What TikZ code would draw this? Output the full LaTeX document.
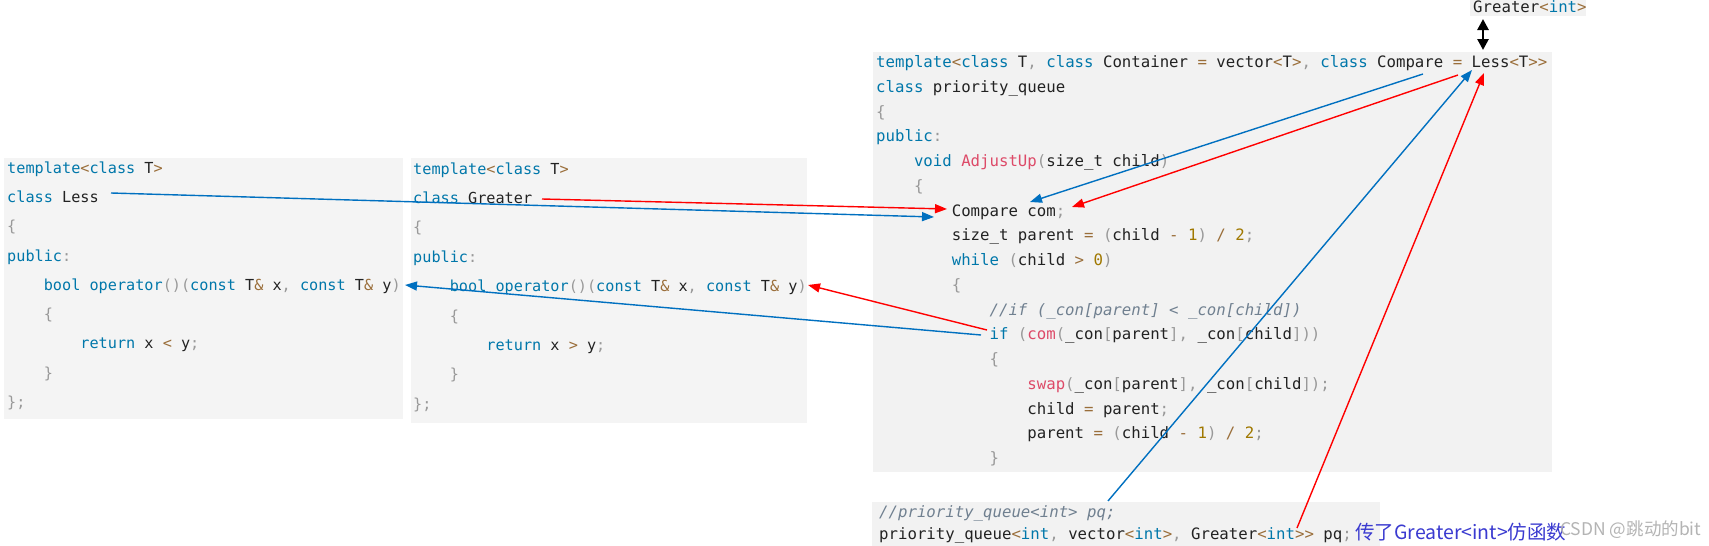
\documentclass[tikz,border=0pt]{standalone}
\usepackage{fontspec}
\usetikzlibrary{arrows.meta}
\newfontfamily\codefont{DejaVu Sans Mono}
\newfontfamily\cjkfont{Noto Sans CJK SC}
\definecolor{kwc}{HTML}{0077AA}
\definecolor{puc}{HTML}{999999}
\definecolor{opc}{HTML}{9A6E3A}
\definecolor{fnc}{HTML}{DD4A68}
\definecolor{nmc}{HTML}{A07800}
\definecolor{cmc}{HTML}{708090}
\definecolor{txc}{HTML}{222222}
\definecolor{boxa}{HTML}{F4F4F4}
\definecolor{boxb}{HTML}{F2F2F2}
\definecolor{arrblue}{HTML}{0070C0}
\definecolor{arrred}{HTML}{FF0000}
\definecolor{handblue}{HTML}{3A3AD0}
\definecolor{wmgray}{HTML}{B4B4B4}
\newcommand\cKw[1]{\textcolor{kwc}{#1}}
\newcommand\cPu[1]{\textcolor{puc}{#1}}
\newcommand\cOp[1]{\textcolor{opc}{#1}}
\newcommand\cFn[1]{\textcolor{fnc}{#1}}
\newcommand\cNm[1]{\textcolor{nmc}{#1}}
\newcommand\cCm[1]{{\color{cmc}\itshape #1}}
\tikzset{
  codeA/.style={anchor=mid west, inner sep=0pt, yshift=-3pt, text=txc, font=\codefont\fontsize{15.2}{18}\selectfont},
  codeB/.style={anchor=mid west, inner sep=0pt, yshift=-3.5pt, text=txc, font=\codefont\fontsize{15.7}{18}\selectfont},
  boxA/.style={fill=boxa, draw=none},
  boxB/.style={fill=boxb, draw=none},
  barr/.style={arrblue, line width=1.4pt, -{Triangle[length=12pt,width=9pt]}},
  rarr/.style={arrred, line width=1.4pt, -{Triangle[length=12pt,width=9pt]}},
  karr/.style={black, line width=2.6pt, {Triangle[length=11pt,width=11pt]}-{Triangle[length=11pt,width=11pt]}}
}
\begin{document}
\begin{tikzpicture}[x=1pt,y=-1pt]
\useasboundingbox (0,0) rectangle (1709,546);
\fill[white] (0,0) rectangle (1709,546);
% boxes
\fill[boxA] (4,158) rectangle (403,419);
\fill[boxA] (411,158) rectangle (807,423);
\fill[boxB] (873,52) rectangle (1552,472);
\fill[boxB] (872,502) rectangle (1380,546);
\fill[boxB] (1470,0) rectangle (1586,16);
% box 1: Less
\node[codeA] (b1l1) at (7,168) {\cKw{template}\cOp{<}\cKw{class} T\cOp{>}};
\node[codeA] (b1l2) at (7,197.3) {\cKw{class} Less};
\node[codeA] (b1l3) at (7,226.6) {\cPu{\{}};
\node[codeA] (b1l4) at (7,255.9) {\cKw{public}\cPu{:}};
\node[codeA] (b1l5) at (43.6,285.2) {\cKw{bool} \cKw{operator}\cPu{()(}\cKw{const} T\cOp{\&} x\cPu{,} \cKw{const} T\cOp{\&} y\cPu{)}};
\node[codeA] (b1l6) at (43.6,314.5) {\cPu{\{}};
\node[codeA] (b1l7) at (80.2,343.8) {\cKw{return} x \cOp{<} y\cPu{;}};
\node[codeA] (b1l8) at (43.6,373.1) {\cPu{\}}};
\node[codeA] (b1l9) at (7,402.4) {\cPu{\};}};
% box 2: Greater
\node[codeA] (b2l1) at (413,169) {\cKw{template}\cOp{<}\cKw{class} T\cOp{>}};
\node[codeA] (b2l2) at (413,198.4) {\cKw{class} Greater};
\node[codeA] (b2l3) at (413,227.8) {\cPu{\{}};
\node[codeA] (b2l4) at (413,257.2) {\cKw{public}\cPu{:}};
\node[codeA] (b2l5) at (449.6,286.6) {\cKw{bool} \cKw{operator}\cPu{()(}\cKw{const} T\cOp{\&} x\cPu{,} \cKw{const} T\cOp{\&} y\cPu{)}};
\node[codeA] (b2l6) at (449.6,316) {\cPu{\{}};
\node[codeA] (b2l7) at (486.2,345.4) {\cKw{return} x \cOp{>} y\cPu{;}};
\node[codeA] (b2l8) at (449.6,374.8) {\cPu{\}}};
\node[codeA] (b2l9) at (413,404.2) {\cPu{\};}};
% box 3: priority_queue
\node[codeB] (b3l1) at (876,62) {\cKw{template}\cOp{<}\cKw{class} T\cPu{,} \cKw{class} Container \cOp{=} vector\cOp{<}T\cOp{>}\cPu{,} \cKw{class} Compare \cOp{=} Less\cOp{<}T\cOp{>{}>}};
\node[codeB] (b3l2) at (876,86.75) {\cKw{class} priority\_queue};
\node[codeB] (b3l3) at (876,111.5) {\cPu{\{}};
\node[codeB] (b3l4) at (876,136.25) {\cKw{public}\cPu{:}};
\node[codeB] (b3l5) at (913.8,161) {\cKw{void} \cFn{AdjustUp}\cPu{(}size\_t child\cPu{)}};
\node[codeB] (b3l6) at (913.8,185.75) {\cPu{\{}};
\node[codeB] (b3l7) at (951.6,210.5) {Compare com\cPu{;}};
\node[codeB] (b3l8) at (951.6,235.25) {size\_t parent \cOp{=} \cPu{(}child \cOp{-} \cNm{1}\cPu{)} \cOp{/} \cNm{2}\cPu{;}};
\node[codeB] (b3l9) at (951.6,260) {\cKw{while} \cPu{(}child \cOp{>} \cNm{0}\cPu{)}};
\node[codeB] (b3l10) at (951.6,284.75) {\cPu{\{}};
\node[codeB] (b3l11) at (989.4,309.5) {\cCm{//if (\_con[parent] < \_con[child])}};
\node[codeB] (b3l12) at (989.4,334.25) {\cKw{if} \cPu{(}\cFn{com}\cPu{(}\_con\cPu{[}parent\cPu{],} \_con\cPu{[}child\cPu{]))}};
\node[codeB] (b3l13) at (989.4,359) {\cPu{\{}};
\node[codeB] (b3l14) at (1027.2,383.75) {\cFn{swap}\cPu{(}\_con\cPu{[}parent\cPu{],} \_con\cPu{[}child\cPu{]);}};
\node[codeB] (b3l15) at (1027.2,408.5) {child \cOp{=} parent\cPu{;}};
\node[codeB] (b3l16) at (1027.2,433.25) {parent \cOp{=} \cPu{(}child \cOp{-} \cNm{1}\cPu{)} \cOp{/} \cNm{2}\cPu{;}};
\node[codeB] (b3l17) at (989.4,458) {\cPu{\}}};
% box 4
\node[codeB] (b4l1) at (879,511.5) {\cCm{//priority\_queue<int> pq;}};
\node[codeB] (b4l2) at (879,533.5) {priority\_queue\cOp{<}\cKw{int}\cPu{,} vector\cOp{<}\cKw{int}\cOp{>}\cPu{,} Greater\cOp{<}\cKw{int}\cOp{>{}>} pq\cPu{;}};
\node[anchor=base west, inner sep=0pt, text=handblue, font=\cjkfont\fontsize{19.5}{23}\selectfont] (hand) at (1355,539) {传了Greater<int>仿函数};
\node[anchor=base west, inner sep=0pt, text=wmgray, font=\cjkfont\fontsize{17.5}{20}\selectfont] (wm) at (1560,535) {CSDN @跳动的bit};
% top label
\node[anchor=base west, inner sep=0pt, text=txc, font=\codefont\fontsize{15.7}{18}\selectfont] (glab) at (1473,12.5) {Greater\cOp{<}\cKw{int}\cOp{>}};
% connector end points
\coordinate (lessR) at (111,193);
\coordinate (greaterR) at (542,199);
\coordinate (compBlue) at (934,217);
\coordinate (compRed) at (947,209);
\coordinate (ifBlue) at (981,335);
\coordinate (ifRed) at (987,330);
\coordinate (lessOp) at (405,285);
\coordinate (greaterOp) at (808,285);
\coordinate (cmpBlueS) at (1423,74);
\coordinate (cmpRedS) at (1458,75);
\coordinate (comBlueT) at (1030,202);
\coordinate (comRedT) at (1072,207);
\coordinate (pqBlue) at (1108,501);
\coordinate (pqRed) at (1297,528);
\coordinate (lessTB) at (1472,70);
\coordinate (lessTR) at (1484,73);
\coordinate (dblTop) at (1483,19);
\coordinate (dblBot) at (1483,50);
% connectors
\draw[barr] (lessR) -- (compBlue);
\draw[rarr] (greaterR) -- (compRed);
\draw[barr] (ifBlue) -- (lessOp);
\draw[rarr] (ifRed) -- (greaterOp);
\draw[barr] (cmpBlueS) -- (comBlueT);
\draw[rarr] (cmpRedS) -- (comRedT);
\draw[barr] (pqBlue) -- (lessTB);
\draw[rarr] (pqRed) -- (lessTR);
\draw[karr] (dblTop) -- (dblBot);
\end{tikzpicture}
\end{document}
